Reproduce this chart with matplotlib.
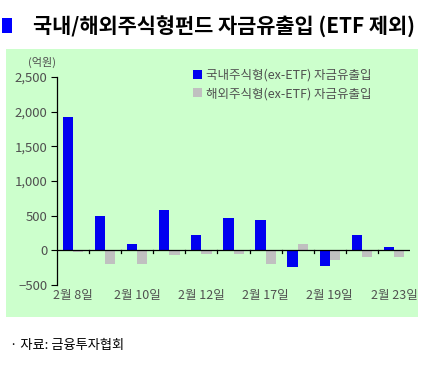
import matplotlib
matplotlib.use("Agg")
import matplotlib.pyplot as plt
import matplotlib.patches as mpatches
import numpy as np

plt.rcParams['font.family'] = ['Noto Sans CJK KR', 'DejaVu Sans']

dates = ["2월 8일", "2월 9일", "2월 10일", "2월 11일", "2월 12일", "2월 16일",
         "2월 17일", "2월 18일", "2월 19일", "2월 22일", "2월 23일"]
domestic = [1920, 500, 90, 580, 220, 470, 440, -240, -230, 220, 50]
overseas = [-20, -200, -200, -70, -50, -50, -200, 90, -140, -90, -100]
series_names = ["국내주식형(ex-ETF) 자금유출입", "해외주식형(ex-ETF) 자금유출입"]
yticks = [-500, 0, 500, 1000, 1500, 2000, 2500]

W, H = 425, 365
fig = plt.figure(figsize=(W/100, H/100), dpi=100)
fig.patch.set_facecolor("white")

green = "#CCFFCC"
bg = mpatches.Rectangle((6/W, 1-317/H), (418-6)/W, (317-49)/H,
                        transform=fig.transFigure, facecolor=green,
                        edgecolor="none", zorder=-5)
fig.patches.append(bg)
# title
fig.patches.append(mpatches.Rectangle((2/W, 1-33/H), 10/W, 15/H,
                                      transform=fig.transFigure, facecolor="#0000FF",
                                      edgecolor="none", zorder=-5))
fig.text(33/W, 1-26/H, "국내/해외주식형펀드 자금유출입 (ETF 제외)", fontsize=15,
         fontweight="bold", va="center", ha="left", color="black")
fig.text(10/W, 1-346/H, "· 자료: 금융투자협회", fontsize=9.5, fontweight="medium",
         va="center", ha="left", color="black")

ax = fig.add_axes([57/W, 1-285/H, (410-57)/W, (285-77)/H], zorder=2)
ax.set_facecolor(green)
x = np.arange(len(dates))
w = 0.32
ax.bar(x - w/2, domestic, width=w, color="#0000F0", label=series_names[0], zorder=2)
ax.bar(x + w/2, overseas, width=w, color="#C0C0C0", label=series_names[1], zorder=2)

ax.set_xlim(-0.5, len(dates) - 0.5)
ax.set_ylim(-500, 2500)
ax.set_yticks(yticks)
ax.set_yticklabels([f"{v:,}".replace("-", "−") for v in yticks], fontsize=9.5, color="#505050")
ax.tick_params(axis="y", length=4, width=0.8, pad=3, direction="out")

for s in ["top", "right", "bottom"]:
    ax.spines[s].set_visible(False)
ax.spines["left"].set_linewidth(0.9)
ax.axhline(0, color="black", lw=0.9, zorder=3)

# category boundary ticks on the zero line
ax.set_xticks([])
for b in np.arange(0.5, len(dates) - 0.5, 1.0):
    ax.plot([b, b], [0, -40], color="black", lw=0.9, zorder=3, clip_on=False)

# x labels every other category below axis
for i in range(0, len(dates), 2):
    ax.text(x[i], -560, dates[i], fontsize=9, color="#505050", ha="center", va="top",
            transform=ax.transData, clip_on=False)

fig.text(28/W, 1-62/H, "(억원)", fontsize=8, color="#505050", va="center", ha="left")

leg = ax.legend(loc="upper left", bbox_to_anchor=(0.37, 1.065), frameon=False,
                fontsize=9, handlelength=0.75, handleheight=0.75, handletextpad=0.3,
                labelspacing=0.45, borderaxespad=0)
for t in leg.get_texts():
    t.set_color("#505050")

fig.savefig("out.png", dpi=100)
